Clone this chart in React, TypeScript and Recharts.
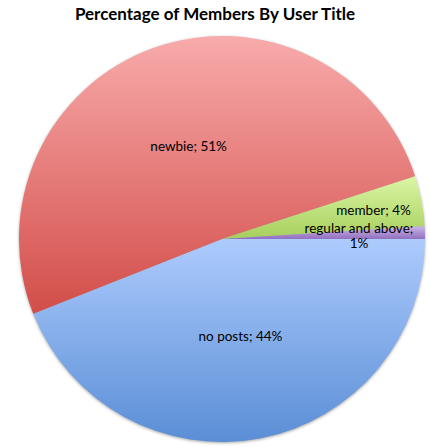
import { PieChart, Pie, Cell } from 'recharts';

// values (percent of members)
const titles = ['no posts', 'newbie', 'member', 'regular and above'];
const shares = [44, 51, 4, 1];

// top / bottom colours of each slice's vertical gradient
const topColors = ['#adcbfd', '#f8abab', '#dcf6a6', '#cbb4e6'];
const bottomColors = ['#5a8ed6', '#d24d49', '#a6cf5c', '#9170bf'];

const data = titles.map((name, i) => ({ name, value: shares[i] }));

const RADIAN = Math.PI / 180;

// how far out the label sits, as a share of the radius
const labelRatio = (percent: number) => (percent > 0.1 ? 0.485 : percent > 0.02 ? 0.76 : 0.675);

const renderLabel = (props: any) => {
    const { cx, cy, midAngle, outerRadius, percent, name } = props;
    const r = outerRadius * labelRatio(percent);
    const x = cx + r * Math.cos(-midAngle * RADIAN);
    const y = cy + r * Math.sin(-midAngle * RADIAN);
    const pct = `${Math.round(percent * 100)}%`;
    const long = name.length > 12;
    return (
        <text
            x={x}
            y={y}
            textAnchor="middle"
            dominantBaseline="central"
            fontFamily="Lato, sans-serif"
            fontSize={13.5}
            fill="#000"
        >
            {long ? (
                <>
                    <tspan x={x} dy={-7}>{`${name};`}</tspan>
                    <tspan x={x} dy={15}>{pct}</tspan>
                </>
            ) : (
                `${name}; ${pct}`
            )}
        </text>
    );
};

const App = () => {
    return (
        <div style={{ position: 'relative', width: 430, height: 447 }}>
            <style>{`body{margin:0} .recharts-pie{filter:drop-shadow(0 1px 1.5px rgba(0,0,0,0.35))}`}</style>
            <div
                style={{
                    position: 'absolute',
                    top: 3,
                    left: 0,
                    width: 430,
                    textAlign: 'center',
                    fontFamily: 'Lato, sans-serif',
                    fontWeight: 700,
                    fontSize: 17,
                    color: '#000',
                }}
            >
                Percentage of Members By User Title
            </div>
            <PieChart width={430} height={447}>
                <defs>
                    {titles.map((t, i) => (
                        <linearGradient key={t} id={`grad${i}`} x1="0" y1="0" x2="0" y2="1">
                            <stop offset="0%" stopColor={topColors[i]} />
                            <stop offset="100%" stopColor={bottomColors[i]} />
                        </linearGradient>
                    ))}
                </defs>
                <Pie
                    data={data}
                    dataKey="value"
                    nameKey="name"
                    cx={217}
                    cy={234}
                    outerRadius={203}
                    startAngle={0}
                    endAngle={-360}
                    stroke="none"
                    label={renderLabel}
                    labelLine={false}
                    isAnimationActive={false}
                >
                    {data.map((d, i) => (
                        <Cell key={d.name} fill={`url(#grad${i})`} />
                    ))}
                </Pie>
            </PieChart>
        </div>
    );
};

export default App;
